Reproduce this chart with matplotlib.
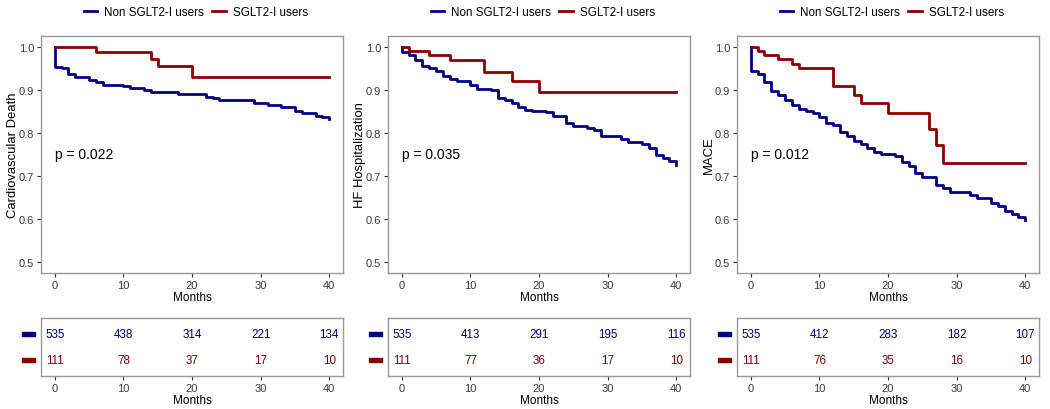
import matplotlib
matplotlib.use("Agg")
import matplotlib.pyplot as plt
from matplotlib.patches import Rectangle
import matplotlib.transforms as mtransforms

plt.rcParams['font.family'] = ['Liberation Sans', 'DejaVu Sans']

# ---------------- data ----------------
groups = ["Non SGLT2-I users", "SGLT2-I users"]
ylabels = ["Cardiovascular Death", "HF Hospitalization", "MACE"]
pvalues = ["p = 0.022", "p = 0.035", "p = 0.012"]
risk_times = [0, 10, 20, 30, 40]

cv_non_t = [0, 0, 1, 2, 3, 5, 6, 7, 10, 11, 13, 14, 18, 22, 23, 24, 29, 31, 33, 35, 36, 38, 39, 40]
cv_non_s = [1.0, 0.953, 0.950, 0.937, 0.929, 0.923, 0.918, 0.911, 0.908, 0.905, 0.899, 0.895, 0.890,
            0.884, 0.880, 0.877, 0.870, 0.866, 0.861, 0.852, 0.846, 0.840, 0.836, 0.833]
cv_sg_t = [0, 6, 14, 15, 20, 40]
cv_sg_s = [1.0, 0.989, 0.972, 0.955, 0.929, 0.929]

hf_non_t = [0, 0, 1, 2, 3, 4, 5, 6, 7, 8, 10, 11, 13, 14, 15, 16, 17, 18, 19, 21, 22, 24, 25, 27, 28,
            29, 32, 33, 35, 36, 37, 38, 39, 40]
hf_non_s = [1.0, 0.989, 0.981, 0.970, 0.956, 0.951, 0.943, 0.933, 0.925, 0.920, 0.911, 0.903, 0.899,
            0.880, 0.876, 0.870, 0.860, 0.854, 0.851, 0.848, 0.840, 0.823, 0.817, 0.812, 0.806, 0.793,
            0.785, 0.780, 0.774, 0.764, 0.748, 0.742, 0.736, 0.725]
hf_sg_t = [0, 1, 4, 7, 12, 16, 20, 40]
hf_sg_s = [1.0, 0.991, 0.981, 0.969, 0.941, 0.921, 0.896, 0.896]

mace_non_t = [0, 0, 1, 2, 3, 4, 5, 6, 7, 8, 9, 10, 11, 12, 13, 14, 15, 16, 17, 18, 19, 21, 22, 23,
              24, 25, 27, 28, 29, 32, 33, 35, 36, 37, 38, 39, 40]
mace_non_s = [1.0, 0.943, 0.936, 0.918, 0.897, 0.889, 0.877, 0.866, 0.855, 0.850, 0.847, 0.837, 0.823,
              0.818, 0.803, 0.792, 0.782, 0.775, 0.764, 0.756, 0.752, 0.746, 0.733, 0.723, 0.706,
              0.697, 0.679, 0.673, 0.662, 0.655, 0.650, 0.637, 0.630, 0.618, 0.612, 0.606, 0.598]
mace_sg_t = [0, 1, 2, 4, 6, 7, 12, 15, 16, 20, 26, 27, 28, 40]
mace_sg_s = [1.0, 0.991, 0.981, 0.972, 0.961, 0.950, 0.908, 0.889, 0.870, 0.846, 0.809, 0.773, 0.731, 0.731]

cv_risk_non = [535, 438, 314, 221, 134]
cv_risk_sg = [111, 78, 37, 17, 10]
hf_risk_non = [535, 413, 291, 195, 116]
hf_risk_sg = [111, 77, 36, 17, 10]
mace_risk_non = [535, 412, 283, 182, 107]
mace_risk_sg = [111, 76, 35, 16, 10]

panels = [
    (cv_non_t, cv_non_s, cv_sg_t, cv_sg_s, cv_risk_non, cv_risk_sg),
    (hf_non_t, hf_non_s, hf_sg_t, hf_sg_s, hf_risk_non, hf_risk_sg),
    (mace_non_t, mace_non_s, mace_sg_t, mace_sg_s, mace_risk_non, mace_risk_sg),
]

# ---------------- style ----------------
BLUE = "#00008B"
RED = "#8B0000"
colors = [BLUE, RED]
W, H = 1050, 410
border = "#9a9a9a"
tickc = "#333333"
ticklab = "#3a3a3a"

fig = plt.figure(figsize=(W / 100, H / 100), dpi=100)

lefts = [41, 388, 737]
pw = 302


def fx(px):
    return px / W


def fy(py):
    return 1 - py / H


def style_axes(ax):
    for s in ax.spines.values():
        s.set_color(border)
        s.set_linewidth(1.0)
    ax.tick_params(axis='both', colors=tickc, labelcolor=ticklab, labelsize=8,
                   length=3, width=0.8, pad=2)


for i, (nt, ns, st, ss, rn, rs) in enumerate(panels):
    left = lefts[i]
    ax = fig.add_axes([fx(left), fy(274), pw / W, (274 - 37) / H])
    ax.step(nt, ns, where='post', color=BLUE, lw=2.0, label=groups[0])
    ax.step(st, ss, where='post', color=RED, lw=2.0, label=groups[1])
    ax.set_xlim(-2, 42)
    ax.set_ylim(0.475, 1.025)
    ax.set_xticks([0, 10, 20, 30, 40])
    ax.set_yticks([0.5, 0.6, 0.7, 0.8, 0.9, 1.0])
    ax.set_yticklabels([f"{v:.1f}" for v in [0.5, 0.6, 0.7, 0.8, 0.9, 1.0]])
    style_axes(ax)
    ax.set_xlabel("Months", fontsize=8.5, labelpad=1)
    ax.set_ylabel(ylabels[i], fontsize=9.4)
    ax.yaxis.set_label_coords(-0.072, 0.5)
    ax.text(0, 0.75, pvalues[i], fontsize=10, ha='left', va='center', color='black')

    ax.legend(loc='center', bbox_to_anchor=(fx(left + pw / 2 + 4), fy(12.7)),
              bbox_transform=fig.transFigure, ncol=2, frameon=False, fontsize=8.4,
              handlelength=1.15, handletextpad=0.6, columnspacing=0.7,
              borderaxespad=0, borderpad=0)

    # risk table
    tx = fig.add_axes([fx(left), fy(377), pw / W, (377 - 319) / H])
    tx.set_xlim(-2, 42)
    tx.set_ylim(0.4, 2.6)
    for t, v in zip(risk_times, rn):
        tx.text(t, 2, str(v), color=BLUE, fontsize=8.4, ha='center', va='center')
    for t, v in zip(risk_times, rs):
        tx.text(t, 1, str(v), color=RED, fontsize=8.4, ha='center', va='center')
    tx.set_xticks(risk_times)
    tx.set_yticks([])
    style_axes(tx)
    tx.set_xlabel("Months", fontsize=8.5, labelpad=1)
    trans = mtransforms.blended_transform_factory(tx.transAxes, tx.transData)
    for yv, c in zip([2, 1], colors):
        tx.add_patch(Rectangle((-0.063, yv - 0.076), 0.042, 0.152, transform=trans,
                               color=c, clip_on=False))

fig.savefig("out.png", dpi=100)
